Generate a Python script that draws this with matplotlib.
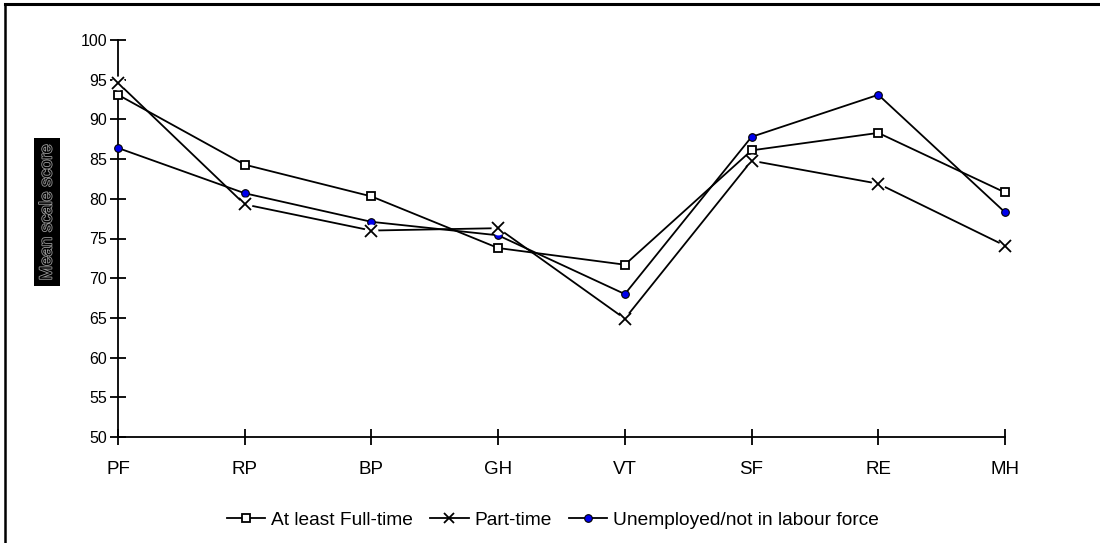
import matplotlib
matplotlib.use("Agg")
import matplotlib.pyplot as plt
import matplotlib.patheffects as pe
from matplotlib.lines import Line2D

categories = ["PF", "RP", "BP", "GH", "VT", "SF", "RE", "MH"]
full_time = [93.1, 84.3, 80.3, 73.8, 71.7, 86.1, 88.3, 80.8]
part_time = [94.6, 79.3, 76.0, 76.3, 64.9, 84.8, 81.9, 74.1]
unemployed = [86.4, 80.7, 77.1, 75.4, 68.0, 87.8, 93.1, 78.3]
y_ticks = list(range(50, 101, 5))

plt.rcParams['font.family'] = ['Liberation Sans', 'DejaVu Sans']

fig = plt.figure(figsize=(11, 5.43), dpi=100)
ax = fig.add_axes([118/1100, 1-437/543, (1005-118)/1100, (437-40)/543])

x = list(range(len(categories)))
ax.plot(x, full_time, color='black', lw=1.3, marker='s', ms=6, mfc='white',
        mec='black', mew=1.3, zorder=3, clip_on=False)
ax.plot(x, part_time, color='black', lw=1.3, zorder=2, clip_on=False)
ax.plot(x, part_time, ls='none', marker='o', ms=10, mfc='white', mec='none', zorder=4, clip_on=False)
ax.plot(x, part_time, ls='none', marker='x', ms=8, mec='black', mew=1.3, zorder=5, clip_on=False)
ax.plot(x, unemployed, color='black', lw=1.3, marker='o', ms=5.5, mfc='#0000ee',
        mec='black', mew=0.8, zorder=3, clip_on=False)

ax.set_xlim(0, len(categories)-1)
ax.set_ylim(50, 100)
ax.set_yticks(y_ticks)
ax.set_xticks(x)
ax.set_xticklabels(categories)
for s in ['top', 'right']:
    ax.spines[s].set_visible(False)
for s in ['left', 'bottom']:
    ax.spines[s].set_linewidth(1.3)
    ax.spines[s].set_clip_on(False)
ax.tick_params(axis='y', direction='inout', length=12, width=1.3, labelsize=11.5, pad=2)
ax.tick_params(axis='x', direction='inout', length=12, width=1.3, labelsize=13.5, pad=11)

fig.text(47/1100, 1-212/543, "Mean scale score", rotation=90, ha='center', va='center',
         fontsize=12.5, color='black',
         bbox=dict(facecolor='black', edgecolor='none', pad=4),
         path_effects=[pe.Stroke(linewidth=1.2, foreground='#9a9a9a'), pe.Normal()])

handles = [
    Line2D([], [], color='black', lw=1.3, marker='s', ms=6, mfc='white', mec='black', mew=1.3),
    Line2D([], [], color='black', lw=1.3, marker='x', ms=7, mec='black', mew=1.3),
    Line2D([], [], color='black', lw=1.3, marker='o', ms=5.5, mfc='#0000ee', mec='black', mew=0.8),
]
fig.legend(handles, ["At least Full-time", "Part-time", "Unemployed/not in labour force"],
           loc='center left', bbox_to_anchor=(227/1100, 1-520/543), ncol=3, frameon=False,
           fontsize=13.8, handlelength=2.0, handletextpad=0.3, columnspacing=0.9,
           borderaxespad=0, borderpad=0)

# frame
fig.add_artist(Line2D([5/1100, 1.0], [1-4/543, 1-4/543], color='black', lw=2.2,
                      transform=fig.transFigure))
fig.add_artist(Line2D([5/1100, 5/1100], [0, 1-4/543], color='black', lw=1.8,
                      transform=fig.transFigure))

fig.savefig("out.png", dpi=100)
